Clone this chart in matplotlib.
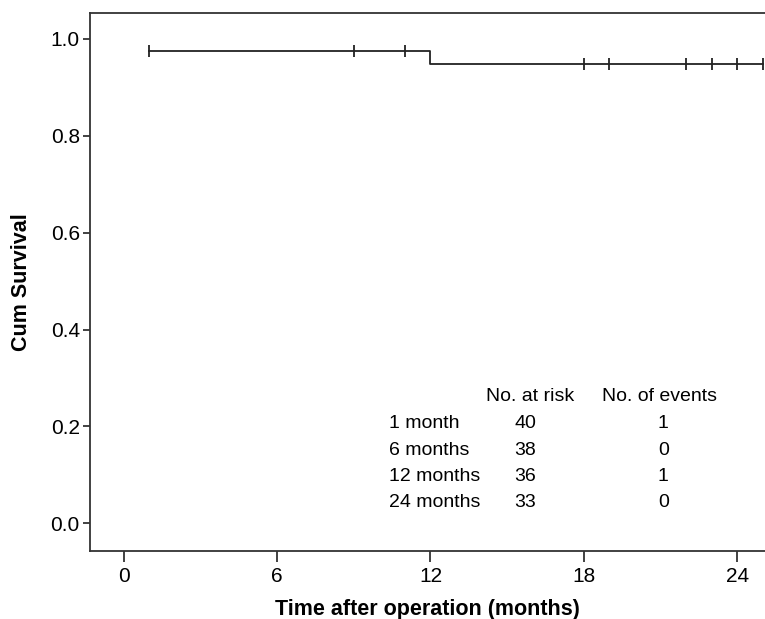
import matplotlib
matplotlib.use("Agg")
import matplotlib.pyplot as plt
import numpy as np

plt.rcParams['font.family'] = ['Liberation Sans', 'DejaVu Sans']

# Kaplan-Meier data
step_times = [1, 12, 25]
step_surv = [0.975, 0.948, 0.948]
censor_times = [1, 9, 11, 18, 19, 22, 23, 24, 25]

# risk table
row_labels = ["1 month", "6 months", "12 months", "24 months"]
at_risk = [40, 38, 36, 33]
events = [1, 0, 1, 0]

xticks = [0, 6, 12, 18, 24]
yticks = [0.0, 0.2, 0.4, 0.6, 0.8, 1.0]

fig = plt.figure(figsize=(7.65, 6.19), dpi=100)
ax = fig.add_axes([0.117, 0.1103, 0.883, 0.8692])

ax.step(step_times, step_surv, where='post', color='#222222', lw=1.3)

def surv_at(t):
    idx = np.searchsorted(step_times, t, side='right') - 1
    return step_surv[max(idx, 0)]

cy = [surv_at(t) for t in censor_times]
ax.plot(censor_times, cy, linestyle='none', marker='|', markersize=9,
        mew=1.3, color='#222222', clip_on=False)

ax.set_xlim(-1.33, 25.08)
ax.set_ylim(-0.0566, 1.054)
ax.set_xticks(xticks)
ax.set_xticklabels([str(t) for t in xticks])
ax.set_yticks(yticks)
ax.set_yticklabels([f"{v:.1f}" for v in yticks])

for s in ['left', 'bottom', 'top']:
    ax.spines[s].set_linewidth(1.3)
    ax.spines[s].set_color('#333333')
ax.spines['right'].set_visible(False)

ax.tick_params(axis='x', length=8, width=1.3, color='#333333', labelsize=15, pad=4)
ax.tick_params(axis='y', length=5, width=1.3, color='#333333', labelsize=15, pad=2)

ax.set_xlabel("Time after operation (months)", fontsize=15.5, fontweight='bold', labelpad=9)
ax.set_ylabel("Cum Survival", fontsize=15.5, fontweight='bold', labelpad=13)

# risk table text
fs = 14
ax.text(15.9, 0.261, "No. at risk", ha='center', va='center', fontsize=fs)
ax.text(20.94, 0.261, "No. of events", ha='center', va='center', fontsize=fs)
row_y = [0.205, 0.151, 0.0956, 0.042]
for lab, r, e, y in zip(row_labels, at_risk, events, row_y):
    ax.text(10.37, y, lab, ha='left', va='center', fontsize=fs)
    ax.text(15.7, y, str(r), ha='center', va='center', fontsize=fs)
    ax.text(21.1, y, str(e), ha='center', va='center', fontsize=fs)

fig.savefig("out.png", dpi=100)
